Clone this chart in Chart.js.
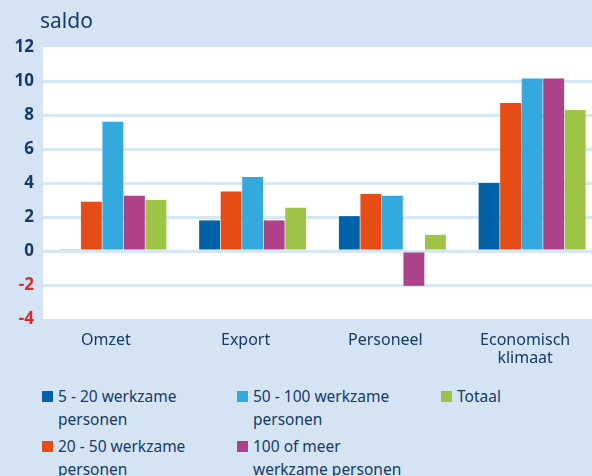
<!DOCTYPE html>
<html>
<head>
<meta charset="utf-8">
<script src="https://cdn.jsdelivr.net/npm/chart.js@4.4.1/dist/chart.umd.min.js"></script>
<style>
  html, body { margin:0; padding:0; width:592px; height:476px; overflow:hidden; background:#d4e4f4; }
  #wrap { position:absolute; left:0; top:0; width:602px; height:372px; }
  #legend { position:absolute; left:42px; top:385px; font-family:"Noto Sans", sans-serif; font-size:15.5px; line-height:23px; color:#163a6a; }
  .item { position:absolute; width:190px; }
  .box { position:absolute; left:0; top:6px; width:11px; height:11px; }
  .txt { position:absolute; left:16px; top:0; white-space:nowrap; }
</style>
</head>
<body>
<div id="wrap"><canvas id="chart"></canvas></div>
<div id="legend"></div>
<script>
// data
const categories = ['Omzet', 'Export', 'Personeel', ['Economisch', 'klimaat']]
const seriesNames = [
  ['5 - 20 werkzame', 'personen'],
  ['20 - 50 werkzame', 'personen'],
  ['50 - 100 werkzame', 'personen'],
  ['100 of meer', 'werkzame personen'],
  ['Totaal']
]
const s5_20 = [0.1, 1.8, 2.05, 4.0]
const s20_50 = [2.9, 3.5, 3.35, 8.7]
const s50_100 = [7.6, 4.35, 3.25, 10.15]
const s100plus = [3.25, 1.8, -2.05, 10.15]
const totaal = [3.0, 2.55, 0.95, 8.3]
const yTicks = [-4, -2, 0, 2, 4, 6, 8, 10, 12]

const colors = ['#0062a8', '#e64d16', '#33a9dd', '#ad428b', '#9ec347']
const navy = '#163a6a'
const allSeries = [s5_20, s20_50, s50_100, s100plus, totaal]

// white plot area + "saldo" label
const plotBg = {
  id: 'plotBg',
  beforeDraw(chart) {
    const { ctx, chartArea } = chart
    ctx.save()
    ctx.fillStyle = '#ffffff'
    ctx.fillRect(chartArea.left, chartArea.top, chartArea.right - chartArea.left, chartArea.bottom - chartArea.top)
    ctx.font = '21px "Noto Sans"'
    ctx.fillStyle = navy
    ctx.textBaseline = 'middle'
    ctx.textAlign = 'left'
    ctx.fillText('saldo', 40, 22)
    ctx.restore()
  }
}

const ctx = document.getElementById('chart').getContext('2d')
const chart = new Chart(ctx, {
  type: 'bar',
  data: {
    labels: categories,
    datasets: allSeries.map((d, i) => ({
      label: seriesNames[i].join(' '),
      data: d,
      backgroundColor: colors[i],
      borderWidth: 0,
      categoryPercentage: 0.77,
      barPercentage: 0.97
    }))
  },
  options: {
    responsive: true,
    maintainAspectRatio: false,
    animation: false,
    layout: { padding: { top: 47, right: 0, bottom: 0, left: 0 } },
    plugins: { legend: { display: false }, tooltip: { enabled: false } },
    scales: {
      x: {
        grid: { display: false, drawTicks: false },
        border: { display: false },
        ticks: { color: navy, font: { family: 'Noto Sans', size: 16, lineHeight: 1.1 }, padding: 13, labelOffset: -7, maxRotation: 0 },
        afterFit(scale) { scale.height = 53 }
      },
      y: {
        min: -4,
        max: 12,
        z: -1,
        afterBuildTicks(scale) { scale.ticks = yTicks.map(v => ({ value: v })) },
        grid: {
          drawTicks: false,
          lineWidth: 3,
          color: (c) => (c.tick && (c.tick.value === 12 || c.tick.value === -4)) ? 'rgba(0,0,0,0)' : '#d8e7f5'
        },
        border: { display: false },
        ticks: {
          padding: 9,
          font: { family: 'Noto Sans', size: 17, weight: 'bold' },
          color: (c) => c.tick.value < 0 ? '#e2262a' : navy
        },
        afterFit(scale) { scale.width = 43 }
      }
    }
  },
  plugins: [plotBg]
})

// legend, 3 columns x 2 rows, column-major
const colX = [0, 195, 399]
const rowY = [0, 50]
document.querySelector('#legend').innerHTML = seriesNames.map((n, i) => `
  <div class="item" style="left:${colX[Math.floor(i / 2)]}px; top:${rowY[i % 2]}px">
    <div class="box" style="background:${colors[i]}"></div>
    <div class="txt">${n.join('<br>')}</div>
  </div>`).join('')
</script>
</body>
</html>
